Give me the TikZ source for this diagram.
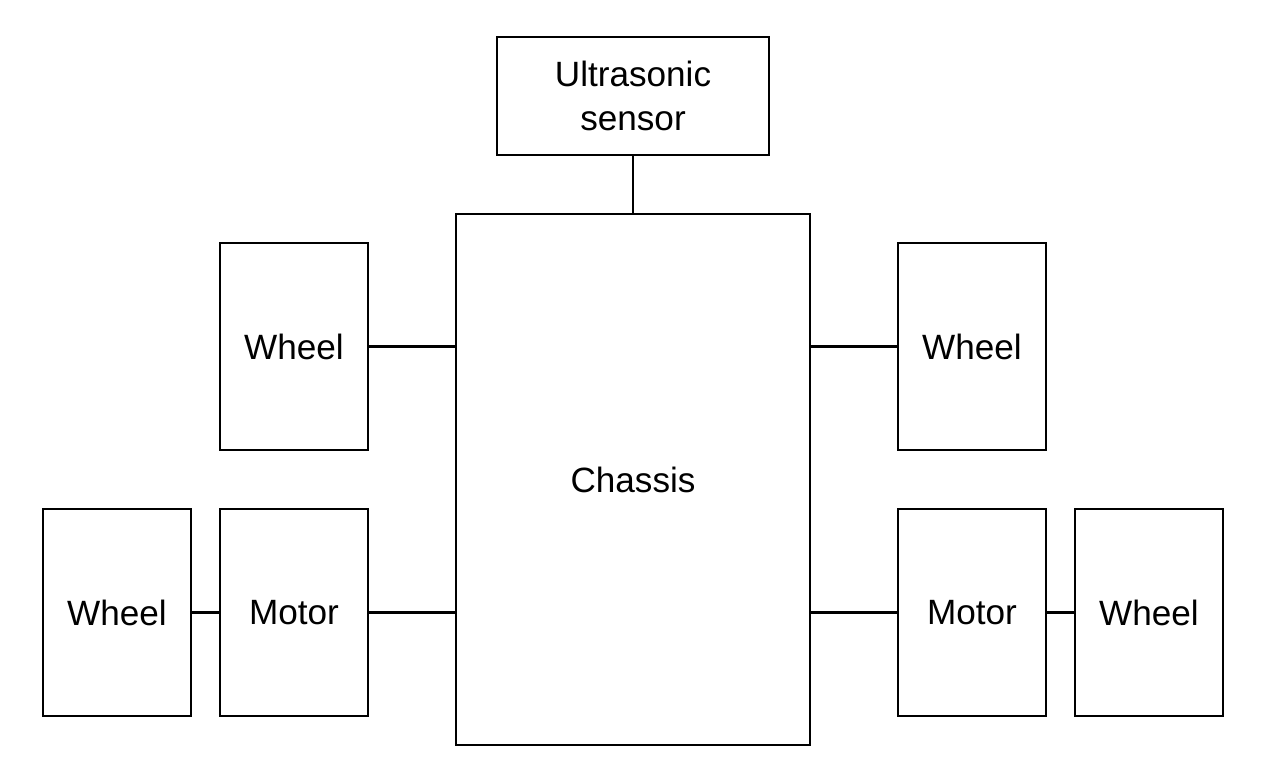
\documentclass[tikz,border=0pt]{standalone}
\usepackage{fontspec}
\setmainfont{Liberation Sans}
\usepackage{tikz}
\usetikzlibrary{calc}

\begin{document}
\begin{tikzpicture}[x=0.02cm,y=-0.02cm,line width=1.4pt,
    part/.style={draw,minimum width=2.96cm,minimum height=4.14cm,inner sep=0pt,
      font=\fontsize{20}{25}\selectfont,align=center}]
  \useasboundingbox (0,0) rectangle (1268,765);
  % top sensor and the body
  \node[part,minimum width=5.44cm,minimum height=2.36cm] (sensor) at (633,96){Ultrasonic\\sensor};
  \node[part,minimum width=7.08cm,minimum height=10.62cm] (chassis) at (633,479.5){Chassis};
  % front wheels
  \node[part] (wheelfl) at (294,346.5){Wheel};
  \node[part] (wheelfr) at (972,346.5){Wheel};
  % rear: motors and their wheels
  \node[part] (motorl) at (294,612.5){Motor};
  \node[part] (wheelrl) at (117,612.5){Wheel};
  \node[part] (motorr) at (972,612.5){Motor};
  \node[part] (wheelrr) at (1149,612.5){Wheel};
  % links
  \draw (sensor.south) -- (chassis.north);
  \draw (wheelfl.east) -- (wheelfl.east -| chassis.west);
  \draw (wheelfr.west) -- (wheelfr.west -| chassis.east);
  \draw (motorl.east) -- (motorl.east -| chassis.west);
  \draw (motorr.west) -- (motorr.west -| chassis.east);
  \draw (wheelrl.east) -- (motorl.west);
  \draw (motorr.east) -- (wheelrr.west);
\end{tikzpicture}
\end{document}
